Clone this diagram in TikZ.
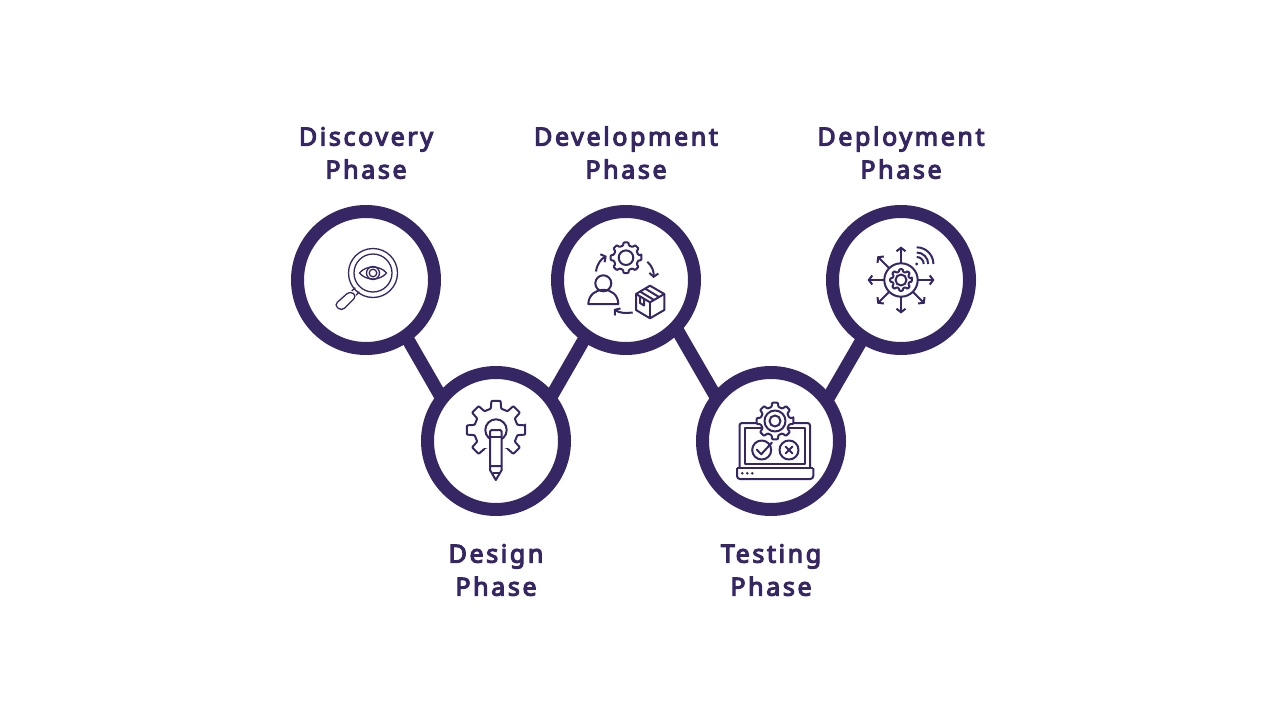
\documentclass[tikz,border=0pt]{standalone}
\usepackage{fontspec}
\setmainfont[LetterSpace=10.5,BoldFont={Noto Sans},BoldFeatures={FakeBold=4.5}]{Noto Sans}
\usetikzlibrary{arrows.meta,positioning,backgrounds,calc}
\definecolor{phasecolor}{RGB}{55,38,100}

\newcommand{\gearicon}[5][]{%
  \pgfmathsetmacro{\gearstep}{360/#5}
  \draw[iconline,fill=white,rounded corners=0.8pt,shift={(#2)},#1] (-0.2*\gearstep:#3)
    \foreach \k in {1,...,#5}{
      -- (\k*\gearstep-\gearstep+0.2*\gearstep:#3)
      -- (\k*\gearstep-\gearstep+0.3*\gearstep:#4)
      -- (\k*\gearstep-0.3*\gearstep:#4)
      -- (\k*\gearstep-0.2*\gearstep:#3)
    } -- cycle;
}

\begin{document}
\begin{tikzpicture}[x=1pt,y=-1pt]
\tikzset{phase/.style={circle,draw=phasecolor,fill=white,line width=13pt,minimum size=137pt,inner sep=0pt},
  phaselabel/.style={text=phasecolor,align=center,inner sep=0pt,font=\fontsize{25}{33}\selectfont\bfseries},
  link/.style={draw=phasecolor,line width=13pt,shorten <=-6pt,shorten >=-6pt},
  iconline/.style={draw=phasecolor,line width=2pt,line join=round},
  thinline/.style={draw=phasecolor,line width=1.3pt},
  iconarrow/.style={iconline,-{Straight Barb[length=3.5pt,width=9pt]}}}
\useasboundingbox (0,0) rectangle (1280,720);

% circles
\node[phase] (discovery) at (366,280) {};
\node[phase] (design) at (496,441) {};
\node[phase] (development) at (626,280) {};
\node[phase] (testing) at (771,441) {};
\node[phase] (deployment) at (901,280) {};

% labels
\node[phaselabel,above=26pt of discovery] (discoverytext) {Discovery\\Phase};
\node[phaselabel,below=28pt of design] (designtext) {Design\\Phase};
\node[phaselabel,above=26pt of development] (developmenttext) {Development\\Phase};
\node[phaselabel,below=28pt of testing] (testingtext) {Testing\\Phase};
\node[phaselabel,above=26pt of deployment] (deploymenttext) {Deployment\\Phase};

\begin{scope}[on background layer]
\draw[link] (discovery.-55) -- (design.140);
\draw[link] (design.40) -- (development.-125);
\draw[link] (development.-45) -- (testing.140);
\draw[link] (testing.38) -- (deployment.-123);
\end{scope}

% magnifier
\draw[thinline] (373,273) circle (24.5);
\draw[thinline] (373,273) circle (19);
\draw[thinline] (359.5,273) .. controls (366,265) and (380,265) .. (386.5,273) .. controls (380,281) and (366,281) .. (359.5,273) -- cycle;
\draw[thinline] (373,273) circle (6.5);
\draw[thinline] (373,273) circle (3.8);
\draw[thinline] (355.3,287.7) -- (351.7,291);
\draw[thinline] (359.3,291.7) -- (356,295.3);
\draw[thinline,rounded corners=4pt] (350,291) -- (356.7,296) -- (341.7,311) -- (334.3,305) -- cycle;

% gear and pencil
\gearicon{496,430}{29.5}{22}{8}
\fill[white] (485,449) rectangle (507,476);
\draw[iconline] (496,430) circle (10.7);
\draw[iconline,fill=white,rounded corners=1.5pt] (490,466) -- (490,430) -- (501.7,430) -- (501.7,466);
\draw[iconline] (490,437) -- (501.7,437);
\draw[iconline,line cap=round] (490,466) -- (490,470) -- (495.8,480) -- (501.7,470) -- (501.7,466) -- cycle;
\draw[iconline] (492.5,472.5) -- (499,472.5);

% gear, person and box
\gearicon{626,257.7}{15.5}{12.5}{8}
\draw[iconline] (626,257.7) circle (7.3);
\draw[iconline] (603.3,283.3) circle (8);
\draw[iconline] (588.3,304) .. controls (589,285) and (618,285) .. (618.3,304) -- cycle;
\draw[iconarrow] (596,271.5) .. controls (597,264) and (601,259) .. (606.7,256);
\draw[iconarrow] (647.3,261.7) .. controls (652,266) and (654,271) .. (653.5,278);
\draw[iconarrow] (632.7,312.5) .. controls (626,313.5) and (619,313) .. (614,309);
\draw[iconline] (650,285.7) -- (664.3,294) -- (664.3,310) -- (650,318.3) -- (636,310) -- (636,294) -- cycle;
\draw[iconline] (636,294) -- (650,302.3) -- (664.3,294);
\draw[iconline] (650,302.3) -- (650,318.3);
\draw[iconline] (645,288.5) -- (659,297);
\draw[iconline] (640,291.5) -- (654,300);
\draw[iconline] (640,296.5) -- (640,303) -- (644,305.5) -- (644,299);

% laptop
\draw[iconline,rounded corners=2.5pt] (739.5,467.5) -- (739.5,423) -- (810,423) -- (810,467.5);
\draw[iconline] (744.5,428) rectangle (805,463.5);
\draw[iconline,rounded corners=3pt] (737,468) -- (737,479) -- (813.3,479) -- (813.3,468);
\draw[iconline] (737,468) -- (813.3,468);
\fill[phasecolor] (742.3,473.3) circle (1.4) (747.3,473.3) circle (1.4) (752.3,473.3) circle (1.4);
\gearicon{775,421}{18.5}{14.5}{8}
\draw[iconline] (775,421) circle (10.5);
\draw[iconline] (775,421) circle (5.5);
\draw[iconline] (761.7,450) circle (9.5);
\draw[iconline] (789,450) circle (9.5);
\draw[iconline,line cap=round] (756.7,449.5) -- (761.2,454.3) -- (772,442.5);
\draw[iconline,line cap=round] (785.5,446.5) -- (792.5,453.5) (792.5,446.5) -- (785.5,453.5);

% hub with arrows
\coordinate (hub) at (901,280);
\draw[iconline] (hub) circle (16.7);
\gearicon{901,280}{11}{8.5}{8}
\draw[iconline] (hub) circle (5.5);
\foreach \a in {0,45,90,135,180,225,270}
  \draw[iconarrow] ($(hub)+(\a:16.7)$) -- ($(hub)+(\a:33.5)$);
\fill[phasecolor] (916.7,264) circle (1.6);
\draw[iconline] (923.7,264) arc[start angle=0,end angle=-90,radius=7];
\draw[iconline] (928.2,264) arc[start angle=0,end angle=-90,radius=11.5];
\draw[iconline] (933.4,264) arc[start angle=0,end angle=-90,radius=16.7];
\end{tikzpicture}
\end{document}
